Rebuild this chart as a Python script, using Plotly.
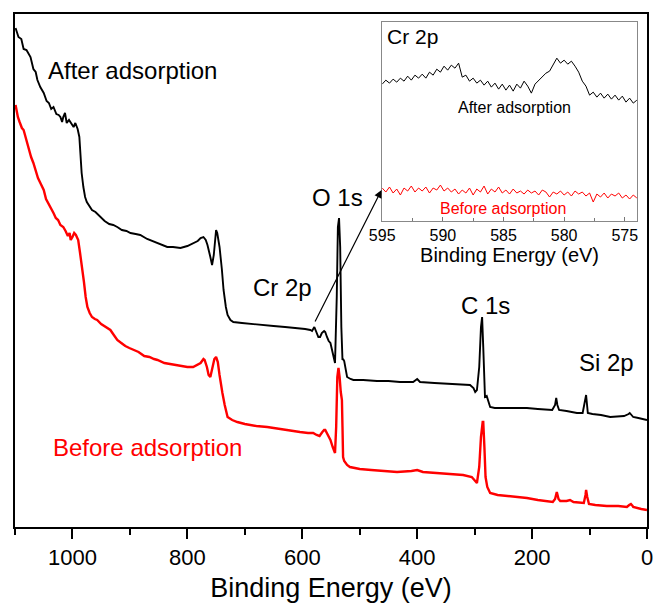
import plotly.graph_objects as go

# ---------------- Main survey spectra (Binding energy eV, intensity a.u.) ----------------
after_be = [1099, 1094, 1089, 1085, 1080, 1073, 1068, 1064, 1061, 1056, 1050, 1045, 1041, 1037, 1033,
            1028, 1024, 1021, 1018, 1016, 1013, 1010, 1006, 1003, 998, 995, 991, 988, 986, 984, 981,
            978, 975, 972, 966, 960, 951, 944, 936, 929, 922, 914, 906, 899, 890, 882, 870, 858, 846,
            835, 825, 812, 800, 790, 782, 777, 772, 768, 765, 760, 757, 754, 752, 750, 748, 744, 740,
            737, 733, 730, 725, 720, 705, 690, 668, 650, 630, 610, 595, 586, 583, 579, 576, 572, 569,
            566, 562, 560, 557, 554, 551, 547, 543, 540, 538, 536, 534, 532, 530, 529, 527, 524, 522,
            516, 511, 500, 494, 470, 450, 430, 407, 400, 395, 370, 340, 320, 308, 302, 299, 296, 292,
            289, 287, 285, 283, 282, 279, 276, 273, 265, 250, 230, 209, 190, 165, 160, 158, 156, 153,
            140, 130, 122, 112, 108, 106, 104, 103, 95, 80, 64, 50, 40, 32, 30, 27, 24, 15, 5, 0]
after_int = [499, 490, 488, 478, 477, 470, 458, 455, 447, 440, 434, 426, 424, 418, 420,
             413, 412, 410, 405, 410, 414, 404, 407, 404, 400, 404, 398, 390, 370, 354, 340,
             330, 325, 322, 317, 315, 310, 306, 303, 302, 300, 297, 296, 294, 293, 292, 288, 285, 282,
             280, 280, 279, 281, 284, 286, 289, 290, 287, 282, 270, 262, 272, 290, 297, 294, 280, 258,
             237, 220, 212, 207, 205, 204, 203, 202, 201, 200, 199, 198, 197, 196, 200, 196, 190, 190,
             194, 196, 195, 190, 186, 184, 175, 164, 230, 300, 309, 280, 200, 167, 168, 166, 158, 150,
             148, 147, 147, 147, 146, 146, 145, 145, 148, 145, 144, 143, 143, 142, 139, 135, 137, 160,
             200, 210, 180, 140, 130, 131, 125, 120, 119, 119, 119, 119, 118, 117, 122, 129, 122, 117,
             116, 115, 114, 114, 125, 132, 120, 114, 113, 112, 110, 111, 111, 113, 114, 112, 110, 109, 108, 107]

before_be = [1099, 1095, 1092, 1088, 1085, 1080, 1076, 1072, 1068, 1064, 1060, 1055, 1050, 1046, 1042,
             1037, 1033, 1029, 1025, 1021, 1016, 1012, 1008, 1005, 1003, 1000, 997, 994, 990, 987, 983,
             980, 977, 974, 970, 966, 961, 957, 950, 943, 934, 928, 922, 915, 908, 901, 894, 885, 875,
             866, 858, 852, 840, 830, 820, 810, 800, 790, 782, 777, 772, 770, 766, 763, 760, 756, 753,
             750, 747, 744, 741, 739, 735, 730, 722, 713, 700, 680, 661, 640, 620, 604, 590, 581, 575,
             570, 565, 562, 560, 556, 551, 547, 543, 541, 539, 537, 535, 533, 531, 530, 529, 527, 522,
             517, 500, 480, 460, 435, 410, 400, 390, 360, 340, 320, 305, 300, 296, 292, 289, 286, 285,
             283, 281, 278, 276, 273, 260, 240, 220, 209, 190, 164, 160, 157, 154, 151, 140, 134, 128,
             117, 110, 107, 106, 104, 101, 90, 70, 50, 35, 31, 28, 25, 24, 10, 0]
before_int = [422, 410, 405, 399, 397, 386, 380, 370, 364, 356, 349, 343, 337, 328, 324,
              318, 314, 309, 307, 302, 300, 296, 291, 294, 287, 290, 294, 292, 287, 275, 260,
              245, 230, 220, 214, 210, 208, 207, 203, 200, 197, 192, 187, 184, 181, 179, 177, 175, 171,
              170, 168, 167, 164, 163, 162, 161, 160, 160, 162, 164, 168, 167, 160, 152, 150, 160, 168,
              170, 165, 152, 140, 134, 122, 110, 107, 105, 103, 101, 100, 98, 96, 95, 94, 94, 92,
              91, 95, 97, 97, 92, 87, 80, 74, 100, 150, 159, 150, 135, 127, 100, 70, 66, 62,
              60, 58, 57, 56, 55, 56, 57, 55, 54, 53, 52, 50, 47, 44, 60, 90, 105, 105,
              80, 50, 40, 38, 34, 32, 31, 30, 29, 27, 25, 28, 35, 28, 26, 26, 27, 25,
              24, 24, 32, 37, 30, 23, 22, 21, 21, 20, 22, 23, 21, 20, 18, 17]

main_ticks = [0, 200, 400, 600, 800, 1000]

# ---------------- Inset: Cr 2p region ----------------
cr_be = [595.0, 594.7, 594.4, 594.1, 593.8, 593.5, 593.2, 592.9, 592.6, 592.3, 592.0, 591.7, 591.4,
         591.1, 590.8, 590.5, 590.2, 589.9, 589.6, 589.3, 589.0, 588.7, 588.4, 588.1, 587.8, 587.5,
         587.2, 586.9, 586.6, 586.3, 586.0, 585.7, 585.4, 585.1, 584.8, 584.5, 584.2, 583.9, 583.6,
         583.3, 583.0, 582.7, 582.4, 582.1, 581.8, 581.5, 581.2, 580.9, 580.6, 580.3, 580.0, 579.7,
         579.4, 579.1, 578.8, 578.5, 578.2, 577.9, 577.6, 577.3, 577.0, 576.7, 576.4, 576.1, 575.8,
         575.5, 575.2, 574.9, 574.6, 574.3, 574.0]
cr_after = [137, 141, 138, 142, 139, 143, 140, 145, 141, 146, 143, 147, 143,
            149, 146, 152, 149, 155, 151, 156, 153, 158, 144, 146, 140, 143,
            138, 141, 136, 140, 134, 138, 132, 137, 131, 136, 130, 137, 133,
            140, 135, 128, 137, 141, 144, 148, 150, 156, 163, 158, 161, 157,
            160, 155, 149, 140, 135, 126, 129, 124, 128, 123, 127, 122, 126,
            121, 125, 119, 123, 118, 121]
cr_before = [33, 29, 34, 28, 32, 26, 33, 30, 35, 29, 33, 30, 34,
             28, 33, 31, 36, 30, 33, 29, 32, 27, 31, 28, 33, 26,
             32, 29, 35, 27, 32, 29, 34, 28, 31, 27, 32, 28, 30,
             27, 31, 28, 30, 26, 31, 29, 24, 29, 27, 30, 26, 29,
             25, 30, 27, 29, 25, 28, 19, 27, 24, 28, 23, 27, 25,
             28, 23, 26, 22, 26, 23]
inset_ticks = [595, 590, 585, 580, 575]

FONT = "Liberation Sans, Arial, sans-serif"
RED = "#ff0000"

fig = go.Figure()
fig.add_trace(go.Scatter(x=after_be, y=after_int, mode="lines",
                         line=dict(color="black", width=1.9), showlegend=False))
fig.add_trace(go.Scatter(x=before_be, y=before_int, mode="lines",
                         line=dict(color=RED, width=2.4), showlegend=False))
fig.add_trace(go.Scatter(x=cr_be, y=cr_after, mode="lines", xaxis="x2", yaxis="y2",
                         line=dict(color="black", width=1), showlegend=False))
fig.add_trace(go.Scatter(x=cr_be, y=cr_before, mode="lines", xaxis="x2", yaxis="y2",
                         line=dict(color=RED, width=1), showlegend=False))

fig.update_layout(
    width=656, height=605,
    margin=dict(l=15, r=9, t=14, b=78),
    paper_bgcolor="white", plot_bgcolor="white",
    font=dict(family=FONT, color="black"),
    xaxis=dict(range=[1100, 0], tickvals=main_ticks, ticks="outside", ticklen=10, tickwidth=2,
               tickcolor="black", showline=True, linecolor="black", linewidth=2, mirror=True,
               showgrid=False, zeroline=False, tickfont=dict(size=22), automargin=False,
               minor=dict(dtick=100, tick0=0, ticks="outside", ticklen=6, tickwidth=2,
                          tickcolor="black", showgrid=False),
               title=dict(text="Binding Energy (eV)", font=dict(size=27), standoff=9),
               domain=[0, 1]),
    yaxis=dict(range=[0, 513], showticklabels=False, ticks="", showline=True, linecolor="black",
               linewidth=2, mirror=True, showgrid=False, zeroline=False, domain=[0, 1],
               automargin=False),
    xaxis2=dict(range=[595, 574], tickvals=inset_ticks, ticks="inside", ticklen=4, tickwidth=1,
                tickcolor="#777", anchor="y2", domain=[0.581, 0.984], showline=True,
                linecolor="#888", linewidth=1, mirror=True, showgrid=False, zeroline=False,
                tickfont=dict(size=16), automargin=False,
                minor=dict(dtick=2.5, tick0=575, ticks="inside", ticklen=3, tickcolor="#777",
                           showgrid=False),
                title=dict(text="Binding Energy (eV)", font=dict(size=20), standoff=0)),
    yaxis2=dict(range=[0, 199], anchor="x2", domain=[0.5965, 0.984], showticklabels=False,
                ticks="", showline=True, linecolor="#888", linewidth=1, mirror=True,
                showgrid=False, zeroline=False, automargin=False),
)

def label(text, xp, yp, size, color="black"):
    fig.add_annotation(text=text, x=xp, y=yp, xref="paper", yref="paper", showarrow=False,
                       xanchor="center", yanchor="middle", font=dict(size=size, color=color, family=FONT))

label("After adsorption", 0.1867, 0.8908, 24)
label("Before adsorption", 0.2104, 0.154, 24, RED)
label("O 1s", 0.5095, 0.643, 24)
label("Cr 2p", 0.4225, 0.4659, 24)
label("C 1s", 0.7437, 0.4327, 24)
label("Si 2p", 0.9367, 0.3216, 24)
label("Cr 2p", 0.6297, 0.957, 21)
label("After adsorption", 0.7896, 0.8168, 16)
label("Before adsorption", 0.7722, 0.6218, 16, RED)

# Arrow from Cr 2p feature to the inset
fig.add_annotation(x=462, y=337, ax=579, ay=204, xref="x", yref="y", axref="x", ayref="y",
                   showarrow=True, arrowhead=2, arrowsize=1.3, arrowwidth=1.2, arrowcolor="black",
                   text="", standoff=0, startstandoff=0)

fig.write_html("out.html", config={"displayModeBar": False},
               post_script="document.body.style.margin='0px';")
